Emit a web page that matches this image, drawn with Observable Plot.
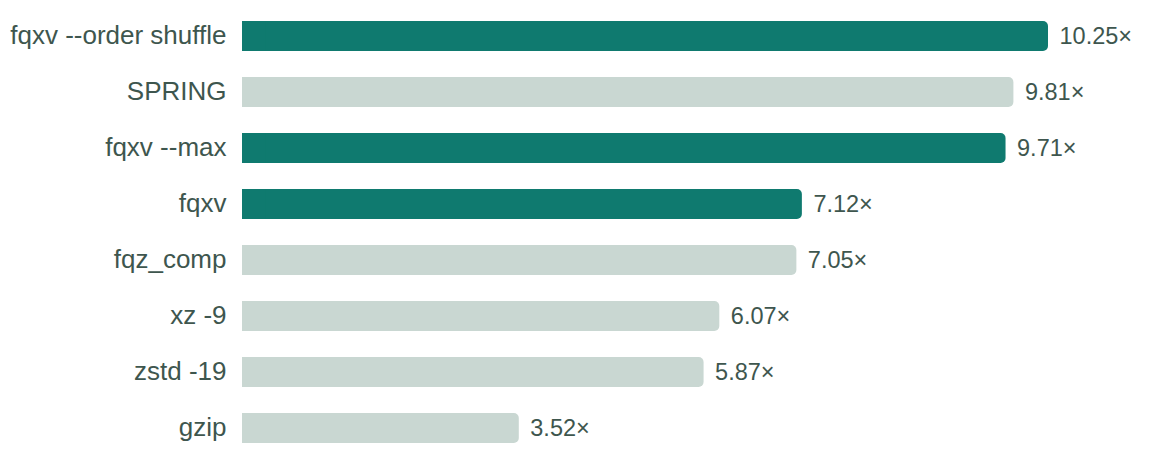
<!DOCTYPE html>
<html>
<head>
<meta charset="utf-8">
<script src="https://cdn.jsdelivr.net/npm/d3@7"></script>
<script src="https://cdn.jsdelivr.net/npm/@observablehq/plot@0.6"></script>
<style>
  html, body { margin: 0; padding: 0; background: #ffffff; }
  #chart svg { display: block; }
</style>
</head>
<body>
<div id="chart"></div>
<script>
const tools = ["fqxv --order shuffle", "SPRING", "fqxv --max", "fqxv", "fqz_comp", "xz -9", "zstd -19", "gzip"];
const ratios = [10.25, 9.81, 9.71, 7.12, 7.05, 6.07, 5.87, 3.52];
const ratioLabels = ["10.25×", "9.81×", "9.71×", "7.12×", "7.05×", "6.07×", "5.87×", "3.52×"];
const highlighted = [true, false, true, true, false, false, false, false];

const data = tools.map((t, i) => ({tool: t, ratio: ratios[i], label: ratioLabels[i], hi: highlighted[i]}));

const teal = "#0f7a6f";
const grey = "#c9d7d2";
const textColor = "#3e564e";

const chart = Plot.plot({
  width: 1170,
  height: 464,
  marginLeft: 0,
  marginRight: 0,
  marginTop: 0,
  marginBottom: 0,
  style: {fontFamily: "'Liberation Sans', Arial, sans-serif", background: "#ffffff"},
  x: {domain: [0, 10.25], range: [242, 1048], axis: null},
  y: {domain: tools, range: [7.5, 455.7], padding: 0, axis: null},
  marks: [
    Plot.barX(data, {x1: 0, x2: "ratio", y: "tool", fill: d => d.hi ? teal : grey, insetTop: 13, insetBottom: 13, rx: 5}),
    Plot.barX(data, {x1: 0, x2: d => Math.min(d.ratio, 0.3), y: "tool", fill: d => d.hi ? teal : grey, insetTop: 13, insetBottom: 13}),
    Plot.text(data, {x: 0, y: "tool", text: "tool", textAnchor: "end", dx: -16, dy: -1, fontSize: 26, fill: textColor}),
    Plot.text(data, {x: "ratio", y: "tool", text: "label", textAnchor: "start", dx: 11, fontSize: 23.5, fill: textColor})
  ]
});
document.getElementById("chart").appendChild(chart);
</script>
</body>
</html>
